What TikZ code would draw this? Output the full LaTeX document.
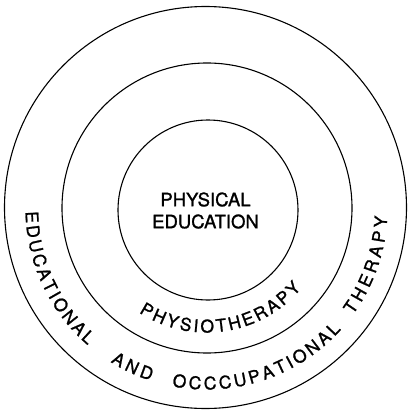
\documentclass[tikz,border=0pt]{standalone}
\usepackage{fontspec}
\setmainfont{TeX Gyre Heros}[FakeBold=1.2]
\usetikzlibrary{decorations.text}
\newcommand{\ringfont}{\fontsize{17.5}{19}\selectfont}

\begin{document}
\begin{tikzpicture}[
  x=1pt, y=1pt,
  ring/.style={line width=1.1pt},
  ringtext/.style={decorate, decoration={text along path, text align=fit to path, text={|\ringfont|#1}}},
]
  \useasboundingbox (-206.5,-201.5) rectangle (201.5,208.5);

  % the three rings
  \draw[ring] (1.5,-1.5) circle[radius=90pt];
  \draw[ring] (0.5,0.5) circle[radius=145pt];
  \draw[ring] (-1,1) circle[radius=201pt];

  % core
  \node[font=\fontsize{18.5}{22}\selectfont, align=center, inner sep=0pt] (core) at (-1,-2) {PHYSICAL\\EDUCATION};

  % middle ring
  \path[ringtext=PHYSIOTHERAPY] (237:124pt) arc[start angle=237, end angle=320, radius=124pt];

  % outer ring, one arc per word
  \path[ringtext=EDUCATIONAL] (181:181pt) arc[start angle=181, end angle=229, radius=181pt];
  \path[ringtext=AND] (238:181pt) arc[start angle=238, end angle=252, radius=181pt];
  \path[ringtext=OCCCUPATIONAL] (259:181pt) arc[start angle=259, end angle=318, radius=181pt];
  \path[ringtext=THERAPY] (324:181pt) arc[start angle=324, end angle=357.5, radius=181pt];

\end{tikzpicture}
\end{document}
